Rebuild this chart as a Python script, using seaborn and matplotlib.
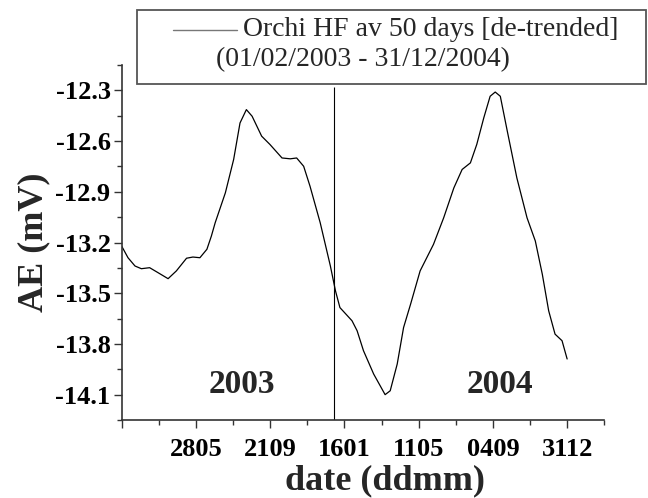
import matplotlib
matplotlib.use("Agg")
import matplotlib.pyplot as plt
from matplotlib.patches import Rectangle
from matplotlib.lines import Line2D
from matplotlib.ticker import MultipleLocator
import pandas as pd
import seaborn as sns

# days since 01/02/2003 and the de-trended 50-day average (mV)
days = [0, 10, 21, 31, 44, 57, 73, 86, 102, 112, 123, 134, 141, 147, 163,
        176, 186, 196, 205, 220, 233, 252, 265, 275, 286, 296, 312, 328, 336,
        343, 362, 370, 380, 396, 414, 422, 433, 443, 454, 469, 490, 506, 522,
        535, 548, 558, 569, 579, 587, 595, 606, 621, 637, 650, 661, 671, 681,
        692, 700]
ae_mv = [-13.221, -13.290, -13.339, -13.355, -13.349, -13.378, -13.414,
         -13.368, -13.293, -13.286, -13.290, -13.240, -13.162, -13.083,
         -12.906, -12.709, -12.493, -12.414, -12.453, -12.571, -12.620,
         -12.700, -12.705, -12.700, -12.749, -12.867, -13.083, -13.339,
         -13.486, -13.585, -13.663, -13.722, -13.840, -13.978, -14.100,
         -14.077, -13.919, -13.703, -13.565, -13.368, -13.211, -13.054,
         -12.877, -12.768, -12.729, -12.620, -12.463, -12.335, -12.310,
         -12.335, -12.542, -12.818, -13.054, -13.191, -13.388, -13.604,
         -13.742, -13.781, -13.889]

xtick_days = [0, 116.67, 233.33, 350, 466.67, 583.33, 700]
xtick_labels = ["", "2805", "2109", "1601", "1105", "0409", "3112"]
ytick_vals = [-14.1, -13.8, -13.5, -13.2, -12.9, -12.6, -12.3]
year_split_day = 334          # 01/01/2004
year_labels = ["2003", "2004"]
year_label_days = [189, 595]
year_label_ae = -14.04

sns.set_style("ticks")
plt.rcParams["font.family"] = ["Liberation Serif", "DejaVu Serif"]

fig = plt.figure(figsize=(6.48, 4.98), dpi=100)
ax = fig.add_axes([0.1877, 0.1566, 0.7448, 0.7129])

df = pd.DataFrame({"day": days, "ae": ae_mv})
sns.lineplot(data=df, x="day", y="ae", ax=ax, color="black", lw=0.9)
ax.vlines(year_split_day, -14.25, -12.28, color="black", lw=0.8)

for lab, d in zip(year_labels, year_label_days):
    ax.text(d, year_label_ae, lab, ha="center", va="center",
            fontsize=24, fontweight="bold")

ax.set_xlim(0, 758.33)
ax.set_ylim(-14.25, -12.15)
ax.set_xticks(xtick_days, xtick_labels)
ax.set_yticks(ytick_vals, [f"{v:.1f}" for v in ytick_vals])
ax.xaxis.set_minor_locator(MultipleLocator(58.333))
ax.yaxis.set_minor_locator(MultipleLocator(0.15))
ax.tick_params(which="major", direction="out", length=6, width=1,
               labelsize=19, colors="#333333", labelcolor="black")
ax.tick_params(which="minor", direction="out", length=3.5, width=1,
               colors="#333333")
ax.tick_params(axis="y", pad=2)
ax.tick_params(axis="x", pad=7)
plt.setp(ax.get_xticklabels() + ax.get_yticklabels(), fontweight="bold")

sns.despine(ax=ax)
for s in ["left", "bottom"]:
    ax.spines[s].set_linewidth(1.2)
    ax.spines[s].set_color("#333333")

ax.set_xlabel("date (ddmm)", fontsize=26, fontweight="bold")
ax.xaxis.set_label_coords(0.546, -0.125)
ax.set_ylabel("AE (mV)", fontsize=26, fontweight="bold", labelpad=4)

# legend box drawn by hand: sample line on the first row, date range below
W, H = 648, 498
fig.patches.append(Rectangle((137 / W, 1 - 84 / H), (646 - 137) / W, 74 / H,
                             transform=fig.transFigure, facecolor="white",
                             edgecolor="#555555", lw=1.3))
fig.lines.append(Line2D([173 / W, 237 / W], [1 - 30 / H] * 2,
                        transform=fig.transFigure, color="#777777", lw=1))
fig.text(243 / W, 1 - 30 / H, "Orchi HF av 50 days [de-trended]",
         ha="left", va="center", fontsize=20)
fig.text(216 / W, 1 - 60 / H, "(01/02/2003 - 31/12/2004)",
         ha="left", va="center", fontsize=20)

fig.savefig("out.png", dpi=100)
